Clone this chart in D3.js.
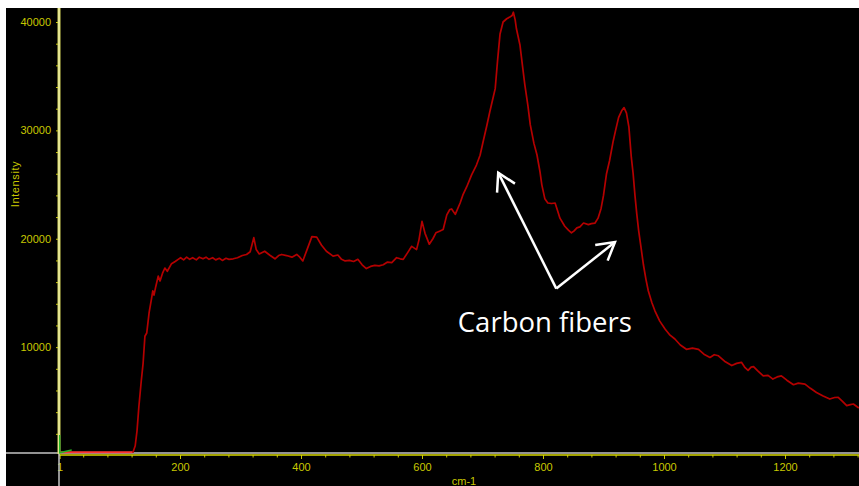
<!DOCTYPE html>
<html>
<head>
<meta charset="utf-8">
<script src="https://cdn.jsdelivr.net/npm/d3@7"></script>
<style>
    body { margin: 0; background: #fff; }
    svg { display: block; }
    .tick text { font-family: "Liberation Sans", Arial, sans-serif; font-size: 11px; fill: #c8c800; }
    .tick line { stroke: #c8c800; }
</style>
</head>
<body>
<div id="chart"></div>
<script>
// spectrum (wavenumber cm-1, intensity counts)
const wavenumbers = [
    122, 126, 129, 132, 136, 139, 142, 145, 149, 153, 155, 157, 160, 164, 167, 171, 175, 179, 186, 192,
    197, 201, 206, 211, 216, 221, 227, 232, 238, 243, 248, 254, 259, 265, 270, 276, 281, 288, 295, 303,
    310, 316, 322, 326, 331, 340, 348, 357, 363, 368, 376, 385, 393, 398, 403, 410, 418, 426, 434, 442,
    453, 461, 467, 473, 480, 487, 494, 501, 508, 515, 522, 529, 536, 543, 550, 558, 564, 569, 576, 583,
    591, 595, 600, 605, 612, 618, 623, 629, 635, 641, 646, 649, 655, 663, 668, 674, 682, 690, 696, 701,
    707, 712, 717, 721, 725, 729, 734, 740, 745, 749, 751, 754, 756, 762, 766, 770, 775, 779, 785, 790,
    795, 798, 803, 808, 814, 820, 824, 828, 836, 842, 847, 851, 856, 861, 867, 875, 880, 886, 891, 896,
    900, 905, 910, 916, 920, 925, 930, 934, 938, 942, 946, 949, 952, 955, 958, 962, 966, 970, 974, 980,
    985, 993, 1002, 1010, 1018, 1027, 1037, 1047, 1057, 1066, 1076, 1083, 1090, 1100, 1112, 1120, 1128, 1134, 1139, 1144,
    1148, 1155, 1164, 1172, 1180, 1187, 1194, 1203, 1214, 1222, 1233, 1242, 1252, 1263, 1274, 1282, 1288, 1295, 1302, 1308,
    1313, 1322
];
const intensity = [
    250, 900, 2300, 4500, 6900, 8500, 11000, 11300, 13200, 14500, 15200, 14800, 15600, 16550, 16100, 16800, 17300, 17000, 17700, 17900,
    18100, 18250, 18050, 18300, 18100, 18250, 18050, 18300, 18150, 18300, 18100, 18250, 18050, 18200, 18000, 18200, 18100, 18150, 18250, 18450,
    18550, 18800, 20100, 19000, 18600, 18850, 18500, 18150, 18450, 18550, 18450, 18300, 18550, 18300, 17950, 19000, 20200, 20150, 19400, 18850,
    18400, 18500, 18100, 17950, 18000, 17900, 18100, 17600, 17250, 17450, 17550, 17500, 17600, 17850, 17800, 18250, 18150, 18100, 18700, 19300,
    19000, 19900, 21600, 20500, 19500, 20000, 20550, 20700, 20850, 22200, 22700, 22750, 22250, 23300, 24100, 24800, 25900, 26800, 27700, 28950,
    30400, 31700, 32900, 33850, 36500, 38900, 40000, 40300, 40450, 40600, 40900, 40200, 39400, 37850, 36000, 34200, 32300, 30500, 28800, 27750,
    26200, 25000, 23700, 23300, 23250, 23300, 22600, 21900, 21150, 20800, 20550, 20700, 21000, 21100, 21450, 21300, 21400, 21450, 21900, 22800,
    24000, 26000, 27200, 29000, 30000, 31200, 31800, 32100, 31600, 30300, 27500, 26000, 24000, 22300, 20800, 19200, 17600, 16300, 15200, 14100,
    13350, 12400, 11650, 11100, 10750, 10200, 9800, 9900, 9800, 9350, 9050, 9300, 9200, 8700, 8300, 8500, 8600, 8100, 7850, 8150,
    8200, 7800, 7350, 7400, 7050, 7250, 7350, 6950, 6530, 6680, 6590, 6200, 5820, 5500, 5210, 5350, 5360, 5000, 4600, 4700,
    4750, 4380
];
// flat low-range trace and cursor marker near the origin
const baseWavenumbers = [1, 122];
const baseIntensity = [300, 300];
const cursorWavenumbers = [1, 1, 21];
const cursorIntensity = [1900, 250, 500];

const xMajorTicks = [1, 200, 400, 600, 800, 1000, 1200];
const yMajorTicks = [10000, 20000, 30000, 40000];
const xTitle = "cm-1";
const yTitle = "Intensity";

const noteText = "Carbon fibers";
const noteOrigin = [822, 15400];
const noteTargets = [[726, 26100], [919, 19700]];
const noteLabel = [803, 11400];

const W = 859, H = 486;

const svg = d3.select("#chart")
    .append("svg")
    .attr("width", W)
    .attr("height", H);

// black panel, white strip on top and left
svg.append("rect")
    .attr("x", 6).attr("y", 8)
    .attr("width", W - 6).attr("height", H - 8)
    .attr("fill", "#000");

const x = d3.scaleLinear().domain([0, 1200]).range([59, 785]);
const y = d3.scaleLinear().domain([0, 40000]).range([455.5, 22]);

svg.append("clipPath").attr("id", "plotClip")
    .append("rect")
    .attr("x", 59).attr("y", 8)
    .attr("width", W - 59).attr("height", 446);

// minor ticks
svg.append("g")
    .attr("transform", "translate(0,455)")
    .call(d3.axisBottom(x)
        .tickValues(d3.range(40, 1321, 40).filter(d => d % 200 !== 0))
        .tickSize(2.5).tickFormat(""))
    .call(g => g.select(".domain").remove());

svg.append("g")
    .attr("transform", "translate(59,0)")
    .call(d3.axisLeft(y)
        .tickValues(d3.range(2000, 40001, 2000).filter(d => d % 10000 !== 0))
        .tickSize(3).tickFormat(""))
    .call(g => g.select(".domain").remove());

// major ticks with labels
svg.append("g")
    .attr("transform", "translate(0,455)")
    .call(d3.axisBottom(x)
        .tickValues(xMajorTicks)
        .tickSize(4).tickPadding(4)
        .tickFormat(d3.format("d")))
    .call(g => g.select(".domain").remove());

svg.append("g")
    .attr("transform", "translate(59,0)")
    .call(d3.axisLeft(y)
        .tickValues(yMajorTicks)
        .tickSize(3).tickPadding(5)
        .tickFormat(d3.format("d")))
    .call(g => g.select(".domain").remove());

// axis lines
svg.append("line")
    .attr("x1", 6).attr("x2", W).attr("y1", 453).attr("y2", 453)
    .attr("stroke", "#c4c4c4").attr("stroke-width", 1.5);
svg.append("line")
    .attr("x1", 59).attr("x2", W).attr("y1", 455).attr("y2", 455)
    .attr("stroke", "#d8d800").attr("stroke-width", 1.5);
svg.append("line")
    .attr("x1", 59).attr("x2", 59).attr("y1", 453).attr("y2", H)
    .attr("stroke", "#c4c4c4").attr("stroke-width", 1.5);
svg.append("line")
    .attr("x1", 59).attr("x2", 59).attr("y1", 8).attr("y2", 454)
    .attr("stroke", "#d6d65a").attr("stroke-width", 3);
svg.append("line")
    .attr("x1", 59).attr("x2", 59).attr("y1", 8).attr("y2", 454)
    .attr("stroke", "#f4f4c8").attr("stroke-width", 1);

// axis titles
svg.append("text")
    .attr("x", 464).attr("y", 485)
    .attr("text-anchor", "middle")
    .attr("font-family", "Liberation Sans, Arial, sans-serif")
    .attr("font-size", 11)
    .attr("fill", "#c8c800")
    .text(xTitle);

svg.append("text")
    .attr("transform", "translate(19,184) rotate(-90)")
    .attr("text-anchor", "middle")
    .attr("font-family", "Liberation Sans, Arial, sans-serif")
    .attr("font-size", 11)
    .attr("letter-spacing", 0.6)
    .attr("fill", "#c8c800")
    .text(yTitle);

const plot = svg.append("g").attr("clip-path", "url(#plotClip)");

const line = d3.line()
    .x(d => x(d[0]))
    .y(d => y(d[1]));

plot.append("path")
    .datum(baseWavenumbers.map((w, i) => [w, baseIntensity[i]]))
    .attr("d", line)
    .attr("fill", "none")
    .attr("stroke", "#ff3434")
    .attr("stroke-width", 2);

plot.append("path")
    .datum(cursorWavenumbers.map((w, i) => [w, cursorIntensity[i]]))
    .attr("d", line)
    .attr("fill", "none")
    .attr("stroke", "#22b822")
    .attr("stroke-width", 1.5);

plot.append("path")
    .datum(wavenumbers.map((w, i) => [w, intensity[i]]))
    .attr("d", line)
    .attr("fill", "none")
    .attr("stroke", "#b40000")
    .attr("stroke-width", 1.7)
    .attr("stroke-linejoin", "round");

// annotation arrows
const ox = x(noteOrigin[0]), oy = y(noteOrigin[1]);
noteTargets.forEach(t => {
    const tx = x(t[0]), ty = y(t[1]);
    const ang = Math.atan2(oy - ty, ox - tx);
    const len = 20, spread = Math.PI / 6;
    svg.append("line")
        .attr("x1", ox).attr("y1", oy).attr("x2", tx).attr("y2", ty)
        .attr("stroke", "#fff").attr("stroke-width", 2.5);
    svg.append("path")
        .attr("d", `M${tx + len * Math.cos(ang - spread)},${ty + len * Math.sin(ang - spread)}`
            + `L${tx},${ty}`
            + `L${tx + len * Math.cos(ang + spread)},${ty + len * Math.sin(ang + spread)}`)
        .attr("fill", "none")
        .attr("stroke", "#fff").attr("stroke-width", 2.5)
        .attr("stroke-linejoin", "miter");
});

svg.append("text")
    .attr("x", x(noteLabel[0])).attr("y", y(noteLabel[1]))
    .attr("text-anchor", "middle")
    .attr("font-family", "Open Sans, sans-serif")
    .attr("font-size", 27.5)
    .attr("fill", "#fff")
    .text(noteText);
</script>
</body>
</html>
